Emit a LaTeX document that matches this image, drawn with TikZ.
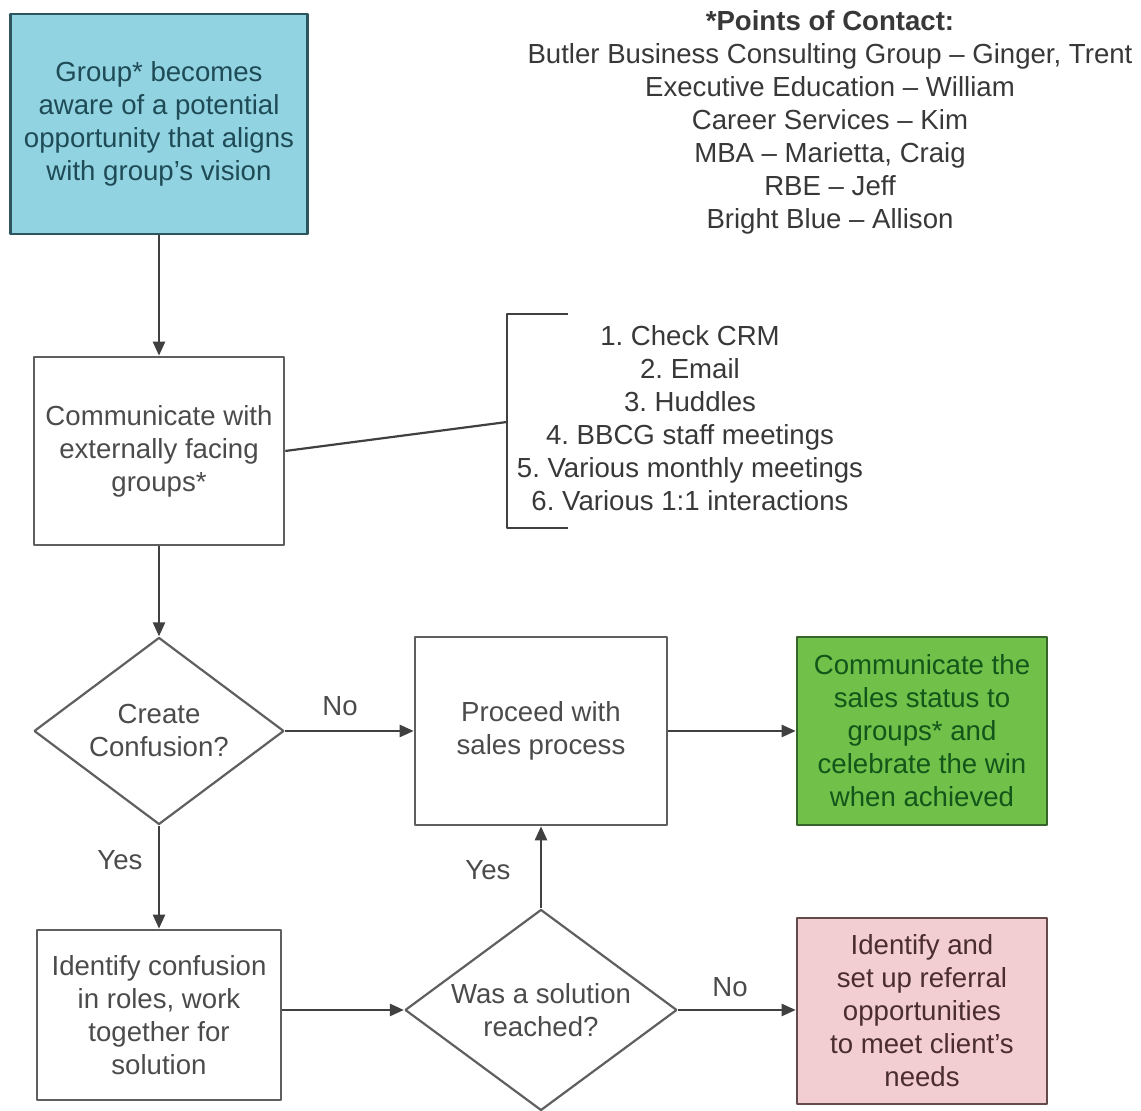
\documentclass[tikz,border=0pt]{standalone}
\usepackage{fontspec}
\setmainfont{Liberation Sans}
\usepackage{tikz}
\usetikzlibrary{arrows.meta, shapes.geometric, positioning}
\usepackage{xcolor}
\definecolor{awarecyan}{RGB}{146,211,226}
\definecolor{awareedge}{RGB}{45,85,95}
\definecolor{awaretext}{RGB}{30,75,85}
\definecolor{wingreen}{RGB}{112,192,74}
\definecolor{winedge}{RGB}{55,100,45}
\definecolor{wintext}{RGB}{20,85,25}
\definecolor{referpink}{RGB}{242,206,210}
\definecolor{referedge}{RGB}{100,75,75}
\definecolor{refertext}{RGB}{75,45,45}
\definecolor{boxgray}{RGB}{95,95,95}
\definecolor{textgray}{RGB}{75,75,75}
\frenchspacing

\begin{document}
\begin{tikzpicture}[
                line join=bevel,
                font=\fontsize{13.8pt}{16.5pt}\selectfont,
                stepnode/.style={shape=rectangle, draw=boxgray, line width=1.3pt, align=center, text=textgray, inner sep=0pt},
                asknode/.style={shape=diamond, draw=boxgray, line width=1.1pt, align=center, text=textgray, inner sep=0pt},
                flowarrow/.style={-{Triangle[length=7pt, width=6pt]}, line width=1.2pt, draw=black!75},
                answer/.style={text=textgray}
                ]
                %% Frame
                \useasboundingbox (0pt, 0pt) rectangle (570.5pt, 555.5pt);

                %% Steps
                \node[stepnode, fill=awarecyan, draw=awareedge, text=awaretext, minimum width=148.5pt, minimum height=110pt] (grpaware) at (79.5pt, 493.5pt)
                    {Group* becomes\\aware of a potential\\opportunity that aligns\\with group's vision};
                \node[stepnode, minimum width=125pt, minimum height=94pt] (commext) at (79.5pt, 330pt)
                    {Communicate with\\externally facing\\groups*};
                \node[asknode, aspect=1.34, minimum width=125pt, minimum height=93.5pt] (confuse) at (79.5pt, 190pt)
                    {Create\\Confusion?};
                \node[stepnode, minimum width=126pt, minimum height=94pt] (proceed) at (270.5pt, 190pt)
                    {Proceed with\\sales process};
                \node[stepnode, fill=wingreen, draw=winedge, text=wintext, minimum width=125pt, minimum height=94pt] (celebrate) at (461pt, 190pt)
                    {Communicate the\\sales status to\\groups* and\\celebrate the win\\when achieved};
                \node[stepnode, minimum width=122pt, minimum height=85pt] (identify) at (79.5pt, 48pt)
                    {Identify confusion\\in roles, work\\together for\\solution};
                \node[asknode, aspect=1.35, minimum width=136pt, minimum height=100.5pt] (solved) at (270.5pt, 50.5pt)
                    {Was a solution\\reached?};
                \node[stepnode, fill=referpink, draw=referedge, text=refertext, minimum width=125pt, minimum height=93pt] (referral) at (461pt, 50pt)
                    {Identify and\\set up referral\\opportunities\\to meet client's\\needs};

                %% Contacts and channels
                \node[align=center, text=black!78] (contacts) at (415pt, 494.5pt)
                    {\textbf{*Points of Contact:}\\Butler Business Consulting Group -- Ginger, Trent\\Executive Education -- William\\Career Services -- Kim\\MBA -- Marietta, Craig\\RBE -- Jeff\\Bright Blue -- Allison};
                \node[align=center, text=black!78] (channels) at (345pt, 346.5pt)
                    {1. Check CRM\\2. Email\\3. Huddles\\4. BBCG staff meetings\\5. Various monthly meetings\\6. Various 1:1 interactions};

                \coordinate (brtop) at (284pt, 398.5pt);
                \coordinate (brbot) at (284pt, 291.5pt);
                \coordinate (brmid) at (253.5pt, 344.5pt);
                \draw[line width=1.1pt, draw=black!75] (brtop) -- (brtop -| brmid) -- (brbot -| brmid) -- (brbot);
                \draw[line width=1.1pt, draw=black!75] (commext.east) -- (brmid);

                %% Connectors
                \draw[flowarrow] (grpaware) -- (commext);
                \draw[flowarrow] (commext) -- (confuse);
                \draw[flowarrow] (confuse) -- (proceed);
                \draw[flowarrow] (proceed) -- (celebrate);
                \draw[flowarrow] (confuse) -- (identify);
                \draw[flowarrow] (identify.east |- solved) -- (solved);
                \draw[flowarrow] (solved) -- (proceed);
                \draw[flowarrow] (solved.east) -- (referral.west |- solved.east);

                %% Answers
                \node[answer] (confno) at (170pt, 202.5pt) {No};
                \node[answer] (confyes) at (60pt, 125.5pt) {Yes};
                \node[answer] (solvyes) at (244pt, 120.5pt) {Yes};
                \node[answer] (solvno) at (365pt, 62pt) {No};
\end{tikzpicture}
\end{document}
